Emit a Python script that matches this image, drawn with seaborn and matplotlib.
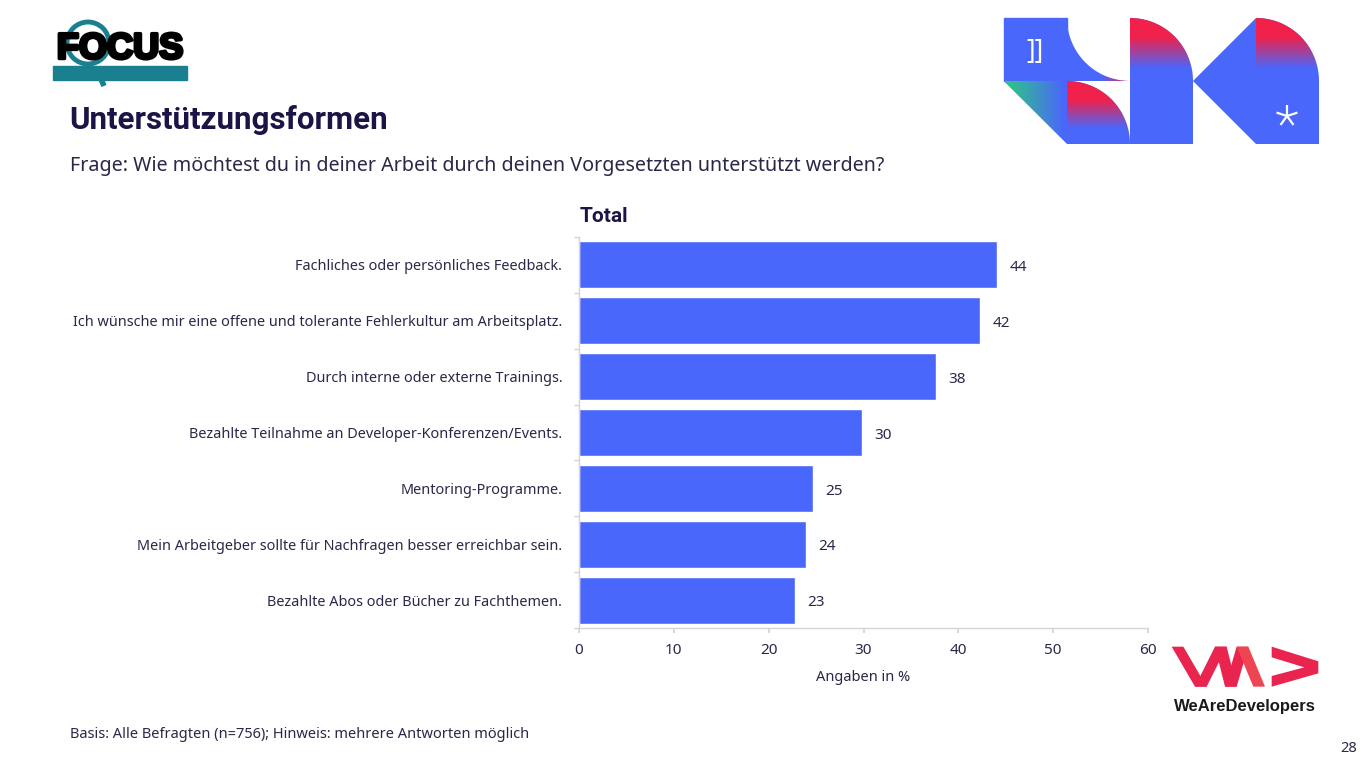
import numpy as np
import matplotlib
matplotlib.use("Agg")
import matplotlib.pyplot as plt
import matplotlib.patheffects as pe
from matplotlib.patches import Polygon, Rectangle, Circle
import seaborn as sns

# survey answers (Angaben in %)
categories = [
    "Fachliches oder persönliches Feedback.",
    "Ich wünsche mir eine offene und tolerante Fehlerkultur am Arbeitsplatz.",
    "Durch interne oder externe Trainings.",
    "Bezahlte Teilnahme an Developer-Konferenzen/Events.",
    "Mentoring-Programme.",
    "Mein Arbeitgeber sollte für Nachfragen besser erreichbar sein.",
    "Bezahlte Abos oder Bücher zu Fachthemen.",
]
values = [44.1, 42.3, 37.6, 29.8, 24.7, 23.9, 22.8]
value_labels = ["44", "42", "38", "30", "25", "24", "23"]
x_ticks = [0, 10, 20, 30, 40, 50, 60]

title = "Unterstützungsformen"
subtitle = "Frage: Wie möchtest du in deiner Arbeit durch deinen Vorgesetzten unterstützt werden?"
footnote = "Basis: Alle Befragten (n=756); Hinweis: mehrere Antworten möglich"

BAR = "#4a67fb"
NAVY = "#1b1446"
TXT = "#2a2848"
GRID = "#d4d4d8"
RED = "#f0214a"
GREEN = "#2fc28a"
TEAL = "#1a7f8e"
BOLD_FONT = ["Roboto", "DejaVu Sans"]

sns.set_theme(style="white")
plt.rcParams["font.family"] = ["Noto Sans", "DejaVu Sans"]

W, H = 1366, 768
fig = plt.figure(figsize=(W / 100, H / 100), dpi=100)

# overlay in pixel coordinates for header, footer and logos
deco = fig.add_axes([0, 0, 1, 1])
deco.set_xlim(0, W)
deco.set_ylim(H, 0)
deco.axis("off")

# main chart
ax = fig.add_axes([579 / W, 1 - 628 / H, (1148 - 579) / W, (628 - 237) / H])
sns.barplot(x=values, y=categories, orient="h", color=BAR, saturation=1,
            width=0.84, ax=ax)
ax.set_xlim(0, 60)
ax.set_ylim(6.5, -0.5)
ax.set_xticks(x_ticks)
ax.set_xticklabels([str(t) for t in x_ticks])
labels = ax.bar_label(ax.containers[0], labels=value_labels, padding=9,
                      fontsize=11, color=TXT)
for t in labels:
    t.xyann = (t.xyann[0], -2)
ax.set_ylabel("")
ax.set_xlabel("Angaben in %", fontsize=10.5, color=TXT, labelpad=9)
for s in ["top", "right"]:
    ax.spines[s].set_visible(False)
for s in ["left", "bottom"]:
    ax.spines[s].set_color(GRID)
    ax.spines[s].set_linewidth(1)
ax.tick_params(axis="y", which="major", length=0, pad=12, labelsize=10.4,
               labelcolor=TXT)
ax.set_yticks(np.arange(-0.5, len(categories), 1), minor=True)
ax.tick_params(axis="y", which="minor", length=3.6, color=GRID, left=True)
ax.tick_params(axis="x", length=3.6, color=GRID, bottom=True, pad=7,
               labelsize=11, labelcolor=TXT)
ax.grid(False)

# header / footer texts
deco.text(69, 120, title, fontsize=22.5, fontweight="bold", color=NAVY,
          family=BOLD_FONT, va="center", ha="left")
deco.text(70, 166, subtitle, fontsize=14.2, color=TXT, va="center", ha="left")
deco.text(580, 217, "Total", fontsize=15, fontweight="bold", color=NAVY,
          family=BOLD_FONT, va="center", ha="left")
deco.text(70, 735, footnote, fontsize=10.5, color=TXT, va="center", ha="left")
deco.text(1357, 749, "28", fontsize=10.5, color=TXT, va="center", ha="right")

# FOCUS logo
deco.add_patch(Circle((88, 43), 21, fill=False, ec=TEAL, lw=3.5, zorder=1))
deco.plot([98, 104], [72, 86], color=TEAL, lw=4, solid_capstyle="butt", zorder=1)
deco.add_patch(Rectangle((53, 66), 134, 14, color=TEAL, zorder=2))
deco.text(120, 49, "FOCUS", fontsize=26, fontweight="bold", color="black",
          family=["Liberation Sans", "DejaVu Sans"], ha="center", va="center",
          zorder=3,
          path_effects=[pe.withStroke(linewidth=2.5, foreground="black")])


def grad_fill(poly, direction, c_from, stop0, stop1):
    """blend colour c_from over a blue shape, fading along direction"""
    deco.add_patch(poly)
    xs, ys = poly.get_xy()[:, 0], poly.get_xy()[:, 1]
    x0, x1, y0, y1 = xs.min(), xs.max(), ys.min(), ys.max()
    n = 200
    t = np.linspace(0, 1, n)
    a = np.clip((stop1 - t) / (stop1 - stop0), 0, 1)
    col = matplotlib.colors.to_rgb(c_from)
    if direction == "v":
        rgba = np.zeros((n, 1, 4))
        rgba[:, 0, :3] = col
        rgba[:, 0, 3] = a
    else:
        rgba = np.zeros((1, n, 4))
        rgba[0, :, :3] = col
        rgba[0, :, 3] = a[::-1] if c_from == RED else a
    im = deco.imshow(rgba, extent=(x0, x1, y1, y0), origin="upper",
                     aspect="auto", interpolation="bilinear", zorder=3)
    im.set_clip_path(poly)


def arc(cx, cy, r, a0, a1, n=40):
    th = np.radians(np.linspace(a0, a1, n))
    return np.column_stack([cx + r * np.cos(th), cy + r * np.sin(th)])


# decorative block top right
deco.add_patch(Rectangle((1004, 18), 63, 63, color=BAR, zorder=2))
deco.text(1035, 52, "]]", fontsize=19, color="white", ha="center", va="center",
          fontweight="light", zorder=4)
concave = np.vstack([arc(1130, 18, 63, 180, 90), [[1067, 81]]])
grad_fill(Polygon(concave, closed=True, color=BAR, lw=0, zorder=2), "h", RED, 0.0, 0.45)
tri = Polygon([[1004, 81], [1067, 81], [1067, 144]], closed=True, color=BAR, lw=0, zorder=2)
grad_fill(tri, "h", GREEN, 0.1, 0.95)
qdisc = np.vstack([[[1067, 144]], arc(1067, 144, 63, -90, 0)])
grad_fill(Polygon(qdisc, closed=True, color=BAR, lw=0, zorder=2), "v", RED, 0.3, 0.75)
tall = np.vstack([arc(1130, 81, 63, -90, 0), [[1193, 144], [1130, 144]]])
grad_fill(Polygon(tall, closed=True, color=BAR, lw=0, zorder=2), "v", RED, 0.15, 0.4)
deco.add_patch(Polygon([[1193, 81], [1256, 18], [1256, 144]], closed=True,
                       color=BAR, lw=0, zorder=2))
right = np.vstack([arc(1256, 81, 63, -90, 0), [[1319, 144], [1256, 144]]])
grad_fill(Polygon(right, closed=True, color=BAR, lw=0, zorder=2), "v", RED, 0.15, 0.4)
for ang in [90, 18, 162, -54, 234]:
    th = np.radians(ang)
    deco.plot([1287, 1287 + 11 * np.cos(th)], [116, 116 - 11 * np.sin(th)],
              color="white", lw=1.6, zorder=5, solid_capstyle="butt")


# WeAreDevelopers logo
def z(pts):
    return [[1165 + px / 3, 640 + py / 3] for px, py in pts]


WAD = "#e8244f"
for pts, c in [
    ([(20, 20), (55, 20), (125, 140), (90, 140)], WAD),
    ([(90, 140), (125, 140), (185, 20), (150, 20)], WAD),
    ([(150, 20), (185, 20), (215, 140), (180, 140)], WAD),
    ([(180, 140), (215, 140), (250, 20), (215, 20)], WAD),
    ([(215, 20), (250, 20), (300, 140), (265, 140)], "#ef4452"),
    ([(320, 20), (460, 64), (460, 100), (320, 140), (320, 108), (418, 82), (320, 52)], WAD),
]:
    deco.add_patch(Polygon(z(pts), closed=True, color=c, lw=0, zorder=3))
deco.text(1245, 707, "WeAreDevelopers", fontsize=12, fontweight="bold",
          color="#1a1a1a", family=["Liberation Sans", "DejaVu Sans"],
          ha="center", va="center")

fig.savefig("out.png", dpi=100)
